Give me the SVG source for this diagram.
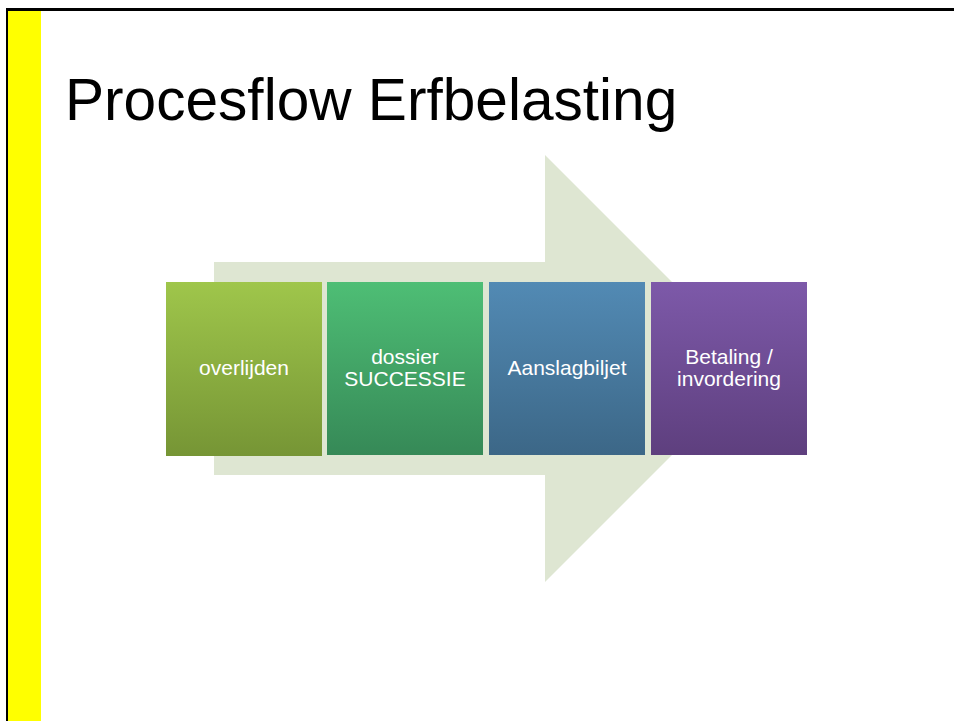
<svg xmlns="http://www.w3.org/2000/svg" width="954" height="721" viewBox="0 0 954 721">
<defs>
<linearGradient id="g1" x1="0" y1="0" x2="0" y2="1"><stop offset="0" stop-color="#9fc64b"/><stop offset="1" stop-color="#769535"/></linearGradient>
<linearGradient id="g2" x1="0" y1="0" x2="0" y2="1"><stop offset="0" stop-color="#4ebe75"/><stop offset="1" stop-color="#368957"/></linearGradient>
<linearGradient id="g3" x1="0" y1="0" x2="0" y2="1"><stop offset="0" stop-color="#528ab4"/><stop offset="1" stop-color="#3c6787"/></linearGradient>
<linearGradient id="g4" x1="0" y1="0" x2="0" y2="1"><stop offset="0" stop-color="#7d59a9"/><stop offset="1" stop-color="#5e3f7e"/></linearGradient>
<style>
.lbl{font-family:"Liberation Sans",Arial,sans-serif;font-size:21px;fill:#ffffff;text-anchor:middle}
</style>
</defs>
<rect x="0" y="0" width="954" height="721" fill="#ffffff"/>
<rect x="8" y="11" width="33" height="710" fill="#ffff00"/>
<line x1="7" y1="9.5" x2="954" y2="9.5" stroke="#000" stroke-width="3"/>
<line x1="7" y1="8" x2="7" y2="721" stroke="#000" stroke-width="2"/>
<text x="65" y="120" font-family="'Liberation Sans',Arial,sans-serif" font-size="58.6" fill="#000">Procesflow Erfbelasting</text>
<polygon id="arrow" points="214,262 545,262 545,155 758.5,368.5 545,582 545,475 214,475" fill="#dee6d2"/>
<g id="connectors"></g>
<g id="n1"><rect x="166" y="282" width="156" height="174" fill="url(#g1)"/><text class="lbl" x="244" y="375">overlijden</text></g>
<g id="n2"><rect x="327" y="282" width="156" height="173" fill="url(#g2)"/><text class="lbl" x="405" y="364">dossier</text><text class="lbl" x="405" y="386">SUCCESSIE</text></g>
<g id="n3"><rect x="489" y="282" width="156" height="173" fill="url(#g3)"/><text class="lbl" x="567" y="375">Aanslagbiljet</text></g>
<g id="n4"><rect x="651" y="282" width="156" height="173" fill="url(#g4)"/><text class="lbl" x="729" y="364">Betaling /</text><text class="lbl" x="729" y="386">invordering</text></g>
</svg>
